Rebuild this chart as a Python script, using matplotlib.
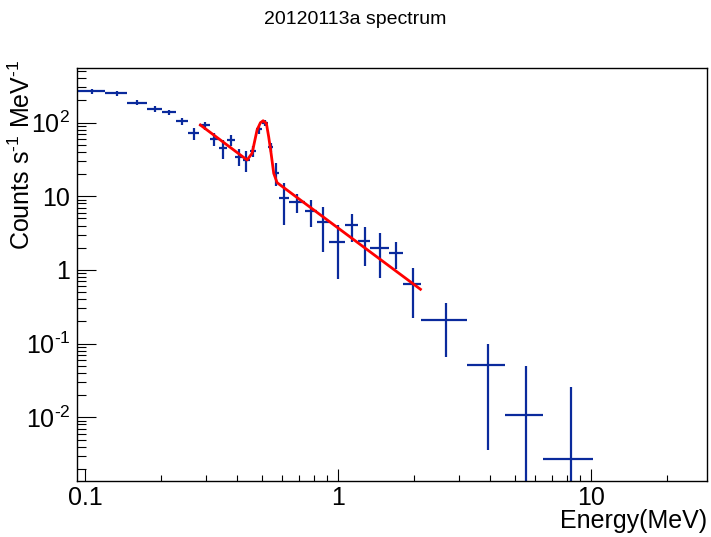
import numpy as np
import matplotlib.pyplot as plt
from matplotlib.ticker import FixedLocator, FixedFormatter, LogLocator, NullFormatter

plt.rcParams['font.family'] = ['Liberation Sans', 'DejaVu Sans']
plt.rcParams['mathtext.fontset'] = 'custom'
plt.rcParams['mathtext.rm'] = 'Liberation Sans'
plt.rcParams['mathtext.it'] = 'Liberation Sans:italic'

# bin edges (MeV)
edges = [0.093, 0.120, 0.147, 0.175, 0.202, 0.229, 0.256, 0.283, 0.311, 0.338,
         0.365, 0.392, 0.419, 0.447, 0.474, 0.501, 0.528, 0.555, 0.583, 0.638,
         0.740, 0.826, 0.920, 1.069, 1.203, 1.342, 1.590, 1.810, 2.130, 3.220,
         4.580, 6.460, 10.13]
# counts s^-1 MeV^-1 and errors
counts = [268, 250, 186, 153, 138, 105, 71.6, 91.4, 59.9, 45.2,
          58.1, 34.5, 31.1, 41.2, 81.1, 99.7, 46.7, 21.0, 9.57, 8.37,
          6.38, 4.41, 2.42, 4.08, 2.50, 1.97, 1.72, 0.642, 0.210, 0.0514,
          0.0108, 0.00273]
errors = [20, 18, 15, 13, 12, 11, 13, 11, 12, 12.8,
          9.8, 8.8, 9.8, 7, 10, 10, 7, 7.3, 5.5, 2.5,
          2.6, 2.65, 1.66, 1.7, 1.37, 1.2, 0.7, 0.42, 0.144, 0.0478,
          0.039, 0.0229]

# fit curve (power law + 511 keV line)
fit_e = [0.2856, 0.4368, 0.4571, 0.4783, 0.4931, 0.5054, 0.5206, 0.5316,
         0.5434, 0.5566, 0.5741, 2.115]
fit_y = [92.8, 31.1, 38.3, 79.4, 99.7, 106.1, 97.8, 64.4,
         38.3, 20.5, 15.3, 0.547]

xticks = [0.1, 1, 10]
xtick_labels = ['0.1', '1', '10']
yticks = [1e-2, 1e-1, 1, 10, 1e2]
ytick_labels = [r'$10^{\text{-}2}$', r'$10^{\text{-}1}$', '1', '10', '$10^{2}$']

edges = np.array(edges)
x = (edges[:-1] + edges[1:]) / 2
xerr = (edges[1:] - edges[:-1]) / 2

fig = plt.figure(figsize=(7.11, 5.37), dpi=100)
ax = fig.add_axes([77.3/711, 1-480.7/537, (706.7-77.3)/711, (480.7-68.3)/537])
ax.set_xscale('log')
ax.set_yscale('log')

ax.errorbar(x, counts, xerr=xerr, yerr=errors, fmt='none', ecolor='#0a2a9c',
            elinewidth=1.6, capsize=0, zorder=2)
ax.plot(fit_e, fit_y, color='#ff0000', lw=2.0, zorder=3)

ax.set_xlim(0.0932, 28.6)
ax.set_ylim(0.00138, 546)

ax.xaxis.set_major_locator(FixedLocator(xticks))
ax.xaxis.set_major_formatter(FixedFormatter(xtick_labels))
ax.xaxis.set_minor_locator(LogLocator(base=10, subs=np.arange(2, 10)))
ax.xaxis.set_minor_formatter(NullFormatter())
ax.yaxis.set_major_locator(FixedLocator(yticks))
ax.yaxis.set_major_formatter(FixedFormatter(ytick_labels))
ax.yaxis.set_minor_locator(LogLocator(base=10, subs=np.arange(2, 10)))
ax.yaxis.set_minor_formatter(NullFormatter())

ax.tick_params(which='both', direction='in', top=False, right=False, width=0.8,
               labelsize=18, colors='black')
ax.tick_params(axis='x', which='major', length=8.9, pad=4)
ax.tick_params(axis='x', which='minor', length=4.5)
ax.tick_params(axis='y', which='major', length=13.6, pad=5)
ax.tick_params(axis='y', which='minor', length=6.8)
for s in ax.spines.values():
    s.set_linewidth(1.0)

fig.text(0.5, 1-20/537, '20120113a spectrum', ha='center', va='center', fontsize=14)
ax.text(1.0, -(521-480.7)/412.4, 'Energy(MeV)', transform=ax.transAxes,
        ha='right', va='center', fontsize=18)
ax.text((22-77.3)/629.4, (480.7-60)/412.4, r'Counts s$^{\text{-}1}$ MeV$^{\text{-}1}$',
        transform=ax.transAxes, rotation=90, ha='center', va='top', fontsize=18)

fig.savefig('out.png', dpi=100)
